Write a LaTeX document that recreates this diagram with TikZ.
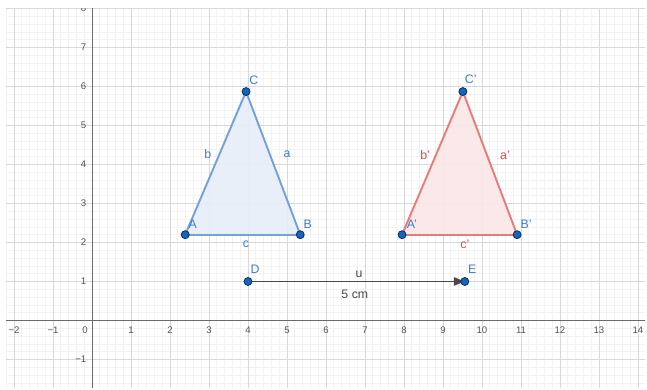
\documentclass[tikz,border=0pt]{standalone}
\usepackage{fontspec}
\setmainfont{Liberation Sans}
\usetikzlibrary{arrows.meta}
\definecolor{gridmajor}{HTML}{D8D8D8}
\definecolor{gridminor}{HTML}{F2F2F2}
\definecolor{axisgray}{HTML}{6A6A6A}
\definecolor{ticktext}{HTML}{555555}
\definecolor{triblue}{HTML}{74A1DB}
\definecolor{fillblue}{HTML}{E6EEF9}
\definecolor{trired}{HTML}{E77C7C}
\definecolor{fillred}{HTML}{FBE7E7}
\definecolor{ptblue}{HTML}{1565C0}
\definecolor{ptedge}{HTML}{0D2F5A}
\definecolor{lblblue}{HTML}{3D7ECF}
\definecolor{lblred}{HTML}{D94C4C}
\definecolor{vecgray}{HTML}{484848}
\tikzset{
  dot/.style={circle, fill=ptblue, draw=ptedge, line width=0.6pt, inner sep=0pt, minimum size=5.8pt},
  ptlabel/.style={text=lblblue, font=\fontsize{9}{10}\selectfont, inner sep=0pt},
  sidelabelblue/.style={text=lblblue, font=\fontsize{9}{10}\selectfont, inner sep=0pt},
  sidelabelred/.style={text=lblred, font=\fontsize{9}{10}\selectfont, inner sep=0pt},
  veclabel/.style={text=vecgray, font=\fontsize{9}{10}\selectfont, inner sep=0pt},
  ticklabel/.style={text=ticktext, font=\fontsize{7}{8}\selectfont, inner sep=0pt},
  edgeblue/.style={draw=triblue, line width=1.4pt, line join=round},
  edgered/.style={draw=trired, line width=1.4pt, line join=round},
}
\begin{document}
\begin{tikzpicture}[x=1cm,y=1cm]
\useasboundingbox[fill=white] (-2.359,-1.782) rectangle (14.231,8.218);
\begin{scope}
  \clip (-2.2,-1.73) rectangle (14.18,8.01);
  \draw[gridminor, line width=0.5pt, step=0.2] (-2.4,-2) grid (14.4,8.4);
  \draw[gridmajor, line width=0.7pt, step=1] (-3,-2) grid (15,9);
  \draw[axisgray, line width=0.7pt] (-2.4,0) -- (14.4,0);
  \draw[axisgray, line width=0.7pt] (0,-2) -- (0,8.4);
  % x tick labels
  \foreach \v/\t in {-2/−2,-1/−1,1/1,2/2,3/3,4/4,5/5,6/6,7/7,8/8,9/9,10/10,11/11,12/12,13/13,14/14}
    \node[ticklabel] (xt\v) at (\v,-0.24) {\t};
  \node[ticklabel] (xt0) at (-0.18,-0.24) {0};
  % y tick labels
  \foreach \v/\t in {-1/−1,1/1,2/2,3/3,4/4,5/5,6/6,7/7,8/8}
    \node[ticklabel, anchor=east] (yt\v) at (-0.14,\v) {\t};
\end{scope}

% points
\coordinate (A) at (2.39,2.2);
\coordinate (B) at (5.34,2.2);
\coordinate (C) at (3.95,5.87);
\coordinate (A') at (7.95,2.2);
\coordinate (B') at (10.90,2.2);
\coordinate (C') at (9.51,5.87);
\coordinate (D) at (4,1);
\coordinate (E) at (9.56,1);

% triangles
\fill[fillblue, fill opacity=0.9] (A) -- (B) -- (C) -- cycle;
\draw[edgeblue] (A) -- (B);
\draw[edgeblue] (B) -- (C);
\draw[edgeblue] (C) -- (A);
\fill[fillred, fill opacity=0.9] (A') -- (B') -- (C') -- cycle;
\draw[edgered] (A') -- (B');
\draw[edgered] (B') -- (C');
\draw[edgered] (C') -- (A');

% vector
\draw[vecgray, line width=1.2pt, -{Triangle[length=8pt,width=6pt]}] (D) -- (E);

% dots
\node[dot] (pA) at (A) {};
\node[dot] (pB) at (B) {};
\node[dot] (pC) at (C) {};
\node[dot] (pA') at (A') {};
\node[dot] (pB') at (B') {};
\node[dot] (pC') at (C') {};
\node[dot] (pD) at (D) {};
\node[dot] (pE) at (E) {};

% labels
\node[ptlabel] (lC) at (4.15,6.17) {C};
\node[ptlabel] (lA) at (2.58,2.47) {A};
\node[ptlabel] (lB) at (5.53,2.47) {B};
\node[sidelabelblue] (lb) at (2.97,4.26) {b};
\node[sidelabelblue] (la) at (5.0,4.26) {a};
\node[sidelabelblue] (lc) at (3.95,1.96) {c};
\node[ptlabel] (lC') at (9.71,6.19) {C'};
\node[ptlabel] (lA') at (8.2,2.47) {A'};
\node[ptlabel] (lB') at (11.13,2.47) {B'};
\node[sidelabelred] (lb') at (8.54,4.24) {b'};
\node[sidelabelred] (la') at (10.59,4.24) {a'};
\node[sidelabelred] (lc') at (9.56,1.96) {c'};
\node[ptlabel] (lD) at (4.18,1.31) {D};
\node[ptlabel] (lE) at (9.75,1.31) {E};
\node[veclabel] (lu) at (6.85,1.19) {u};
\node[veclabel] (l5) at (6.74,0.67) {5 cm};
\end{tikzpicture}
\end{document}
